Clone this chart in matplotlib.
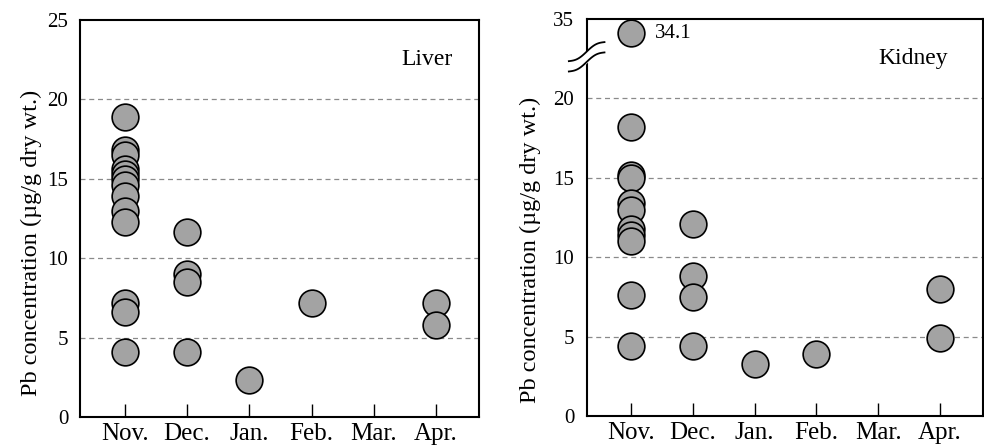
import numpy as np
import matplotlib.pyplot as plt
from matplotlib.transforms import blended_transform_factory

plt.rcParams["font.family"] = ["Liberation Serif", "DejaVu Serif"]

# ======================================================
# Data
# ======================================================

months = ["Nov.", "Dec.", "Jan.", "Feb.", "Mar.", "Apr."]

liver_nov = [18.9, 16.8, 16.5, 15.6, 15.3, 15.0, 14.6, 13.9, 13.0, 12.3, 7.2, 6.6, 4.1]
liver_dec = [11.65, 9.0, 8.5, 4.1]
liver_jan = [2.3]
liver_feb = [7.2]
liver_mar = []
liver_apr = [7.2, 5.8]

kidney_nov = [34.1, 18.2, 15.2, 15.0, 13.4, 13.0, 11.8, 11.4, 11.0, 7.6, 4.4]
kidney_dec = [12.1, 8.8, 7.5, 4.4]
kidney_jan = [3.3]
kidney_feb = [3.9]
kidney_mar = []
kidney_apr = [8.0, 4.9]

# values above the break are drawn shifted down by this amount (35 -> 25)
BREAK_AT = 22.5
BREAK_SHIFT = 10.0

FACE = "#a3a3a3"
GRID = "#8a8a8a"

# ======================================================
# Helpers
# ======================================================

def draw_panel(ax, groups, ytick_labels, title, title_x, label_xy, ypad):
    for i, vals in enumerate(groups):
        vals = np.asarray(vals, dtype=float)
        if vals.size == 0:
            continue
        shown = np.where(vals > BREAK_AT, vals - BREAK_SHIFT, vals)
        ax.scatter(np.full(vals.size, i + 1), shown, s=370, c=FACE,
                   edgecolors="black", linewidths=1.2, zorder=3)

    for g in [5, 10, 15, 20]:
        ax.axhline(g, color=GRID, lw=0.9, ls=(0, (4, 3)), zorder=1)

    ax.set_xlim(0.28, 6.69)
    ax.set_ylim(0, 25)
    ax.set_xticks(np.arange(1, len(months) + 1))
    ax.set_xticklabels(months, fontsize=18)
    ax.set_yticks([0, 5, 10, 15, 20, 25])
    ax.set_yticklabels(ytick_labels, fontsize=15)
    ax.tick_params(axis="x", direction="in", length=9.5, width=1.0, pad=4)
    ax.tick_params(axis="y", length=0, pad=ypad)
    for sp in ax.spines.values():
        sp.set_linewidth(1.5)

    ax.set_ylabel("Pb concentration (\u00b5g/g dry wt.)", fontsize=17.5)
    ax.yaxis.set_label_coords(*label_xy)
    ax.yaxis.label.set_va("center")
    ax.text(title_x, 22.5, title, fontsize=17, ha="right", va="center",
            transform=blended_transform_factory(ax.transAxes, ax.transData))


# ======================================================
# Plot
# ======================================================

fig = plt.figure(figsize=(9.84, 4.48), dpi=100)
ax1 = fig.add_axes([0.0813, 0.0692, 0.4055, 0.886])
ax2 = fig.add_axes([0.5962, 0.0714, 0.4024, 0.886])

draw_panel(ax1,
           [liver_nov, liver_dec, liver_jan, liver_feb, liver_mar, liver_apr],
           ["0", "5", "10", "15", "20", "25"], "Liver", 0.935, (-0.122, 0.438), 8.5)
draw_panel(ax2,
           [kidney_nov, kidney_dec, kidney_jan, kidney_feb, kidney_mar, kidney_apr],
           ["0", "5", "10", "15", "20", "35"], "Kidney", 0.912, (-0.143, 0.418), 9)

# label for the value above the break
ax2.text(1.39, kidney_nov[0] - BREAK_SHIFT, f"{kidney_nov[0]:.1f}",
         fontsize=15, ha="left", va="center")

# axis break marks on the kidney y-axis
tr = blended_transform_factory(ax2.transAxes, ax2.transData)
t = np.linspace(-1, 1, 40)
bx = 0.045 * t
by = 0.6 * t + 0.15 * np.sin(np.pi * t)
ax2.fill_between(bx, 22.3 + by, 22.95 + by, color="white", transform=tr,
                 clip_on=False, zorder=4)
for yc in (22.95, 22.3):
    ax2.plot(bx, yc + by, color="black", lw=1.3, transform=tr,
             clip_on=False, zorder=5)

fig.savefig("out.png", dpi=100)
